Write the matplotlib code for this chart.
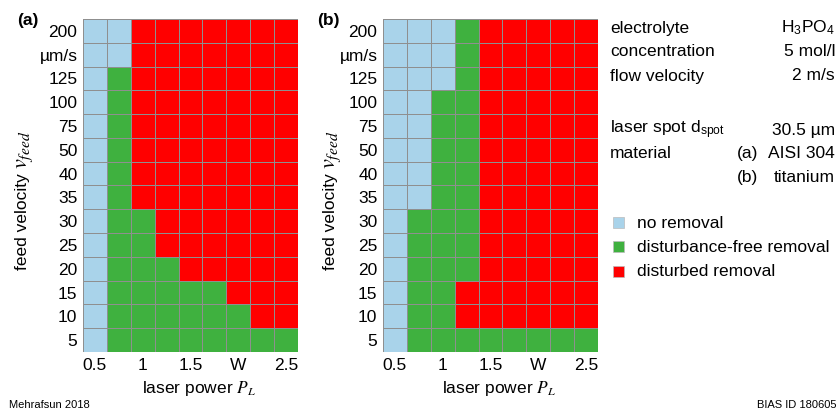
import numpy as np
import matplotlib.pyplot as plt
from matplotlib.colors import ListedColormap
from matplotlib.patches import Rectangle

plt.rcParams['font.family'] = ['Liberation Sans', 'DejaVu Sans']
plt.rcParams['mathtext.fontset'] = 'custom'
plt.rcParams['mathtext.rm'] = 'Liberation Sans'
plt.rcParams['mathtext.it'] = 'STIXGeneral:italic'
plt.rcParams['mathtext.bf'] = 'Liberation Sans:bold'

# laser power steps (W) and feed velocities (um/s), bottom row first
powers = [0.5, 0.75, 1.0, 1.25, 1.5, 1.75, 2.0, 2.25, 2.5]
power_ticks = ['0.5', '1', '1.5', 'W', '2.5']
power_tick_idx = [0, 2, 4, 6, 8]
feed_labels = ['5', '10', '15', '20', '25', '30', '35', '40', '50', '75',
               '100', '125', 'µm/s', '200']

# 0 = no removal, 1 = disturbance-free removal, 2 = disturbed removal
result_a = [
    [0, 1, 1, 1, 1, 1, 1, 1, 1],   # 5
    [0, 1, 1, 1, 1, 1, 1, 2, 2],   # 10
    [0, 1, 1, 1, 1, 1, 2, 2, 2],   # 15
    [0, 1, 1, 1, 2, 2, 2, 2, 2],   # 20
    [0, 1, 1, 2, 2, 2, 2, 2, 2],   # 25
    [0, 1, 1, 2, 2, 2, 2, 2, 2],   # 30
    [0, 1, 2, 2, 2, 2, 2, 2, 2],   # 35
    [0, 1, 2, 2, 2, 2, 2, 2, 2],   # 40
    [0, 1, 2, 2, 2, 2, 2, 2, 2],   # 50
    [0, 1, 2, 2, 2, 2, 2, 2, 2],   # 75
    [0, 1, 2, 2, 2, 2, 2, 2, 2],   # 100
    [0, 1, 2, 2, 2, 2, 2, 2, 2],   # 125
    [0, 0, 2, 2, 2, 2, 2, 2, 2],   # 150
    [0, 0, 2, 2, 2, 2, 2, 2, 2],   # 200
]
result_b = [
    [0, 1, 1, 1, 1, 1, 1, 1, 1],   # 5
    [0, 1, 1, 2, 2, 2, 2, 2, 2],   # 10
    [0, 1, 1, 2, 2, 2, 2, 2, 2],   # 15
    [0, 1, 1, 1, 2, 2, 2, 2, 2],   # 20
    [0, 1, 1, 1, 2, 2, 2, 2, 2],   # 25
    [0, 1, 1, 1, 2, 2, 2, 2, 2],   # 30
    [0, 0, 1, 1, 2, 2, 2, 2, 2],   # 35
    [0, 0, 1, 1, 2, 2, 2, 2, 2],   # 40
    [0, 0, 1, 1, 2, 2, 2, 2, 2],   # 50
    [0, 0, 1, 1, 2, 2, 2, 2, 2],   # 75
    [0, 0, 1, 1, 2, 2, 2, 2, 2],   # 100
    [0, 0, 0, 1, 2, 2, 2, 2, 2],   # 125
    [0, 0, 0, 1, 2, 2, 2, 2, 2],   # 150
    [0, 0, 0, 1, 2, 2, 2, 2, 2],   # 200
]

state_names = ['no removal', 'disturbance-free removal', 'disturbed removal']
state_colors = ['#a9d3ea', '#3fb13f', '#ff0000']
cmap = ListedColormap(state_colors)

FS = 12.5
fig = plt.figure(figsize=(8.38, 4.15), dpi=100)
W, H = 838, 415
renderer = fig.canvas.get_renderer()


def panel(left_px, label_x_px, data, tag):
    ax = fig.add_axes([left_px / W, 1 - 352 / H, 215 / W, 333 / H])
    grid = np.array(data)
    ax.pcolormesh(np.arange(len(powers) + 1), np.arange(len(feed_labels) + 1),
                  grid, cmap=cmap, vmin=-0.5, vmax=2.5,
                  edgecolors='#8f8f8f', linewidth=0.6)
    ax.set_xlim(0, len(powers))
    ax.set_ylim(0, len(feed_labels))
    ax.set_xticks(np.array(power_tick_idx) + 0.5)
    ax.set_xticklabels(power_ticks, fontsize=FS)
    ax.set_yticks(np.arange(len(feed_labels)) + 0.5)
    ax.set_yticklabels(feed_labels, fontsize=FS)
    ax.tick_params(length=0, pad=4)
    for s in ax.spines.values():
        s.set_visible(False)
    ax.set_xlabel('laser power $P_L$', fontsize=FS, labelpad=2)
    ax.xaxis.set_label_coords(0.54, -0.08)

    # vertical axis title: plain words plus a larger math symbol
    t = fig.text(label_x_px / W, 1 - 270 / H, 'feed velocity', fontsize=FS,
                 rotation=90, rotation_mode='anchor', ha='left',
                 va='baseline')
    top = t.get_window_extent(renderer).y1
    fig.text(label_x_px / W, (top + 4) / H, '$v_{feed}$', fontsize=16,
             rotation=90, rotation_mode='anchor', ha='left', va='baseline')

    fig.text((left_px - 66) / W, 1 - 20 / H, tag, fontsize=FS,
             fontweight='bold', va='center')
    return ax


panel(83, 27, result_a, '(a)')
panel(383, 335, result_b, '(b)')

# process parameters
lx, rx, tagx = 610 / W, 835 / W, 737 / W
params = [
    (28, 'electrolyte', '', 'H$_\\mathrm{3}$PO$_\\mathrm{4}$'),
    (52, 'concentration', '', '5 mol/l'),
    (76, 'flow velocity', '', '2 m/s'),
    (130, 'laser spot d$_\\mathrm{spot}$', '', '30.5 µm'),
    (153, 'material', '(a)', 'AISI 304'),
    (177, '', '(b)', 'titanium'),
]
for y, name, tag, val in params:
    if name:
        fig.text(lx, 1 - y / H, name, fontsize=FS, va='center')
    if tag:
        fig.text(tagx, 1 - y / H, tag, fontsize=FS, va='center')
    fig.text(rx, 1 - y / H, val, fontsize=FS, va='center', ha='right')

# legend of the removal states
for i, (name, col) in enumerate(zip(state_names, state_colors)):
    y = 223 + i * 24
    fig.patches.append(Rectangle((613 / W, 1 - (y + 5.5) / H), 11 / W, 11 / H,
                                 transform=fig.transFigure, facecolor=col,
                                 edgecolor='#bbbbbb', linewidth=0.5))
    fig.text(637 / W, 1 - y / H, name, fontsize=FS, va='center')

fig.text(9 / W, 1 - 405 / H, 'Mehrafsun 2018', fontsize=8, va='center')
fig.text(836 / W, 1 - 405 / H, 'BIAS ID 180605', fontsize=8, va='center',
         ha='right')

fig.savefig('out.png', dpi=100)
